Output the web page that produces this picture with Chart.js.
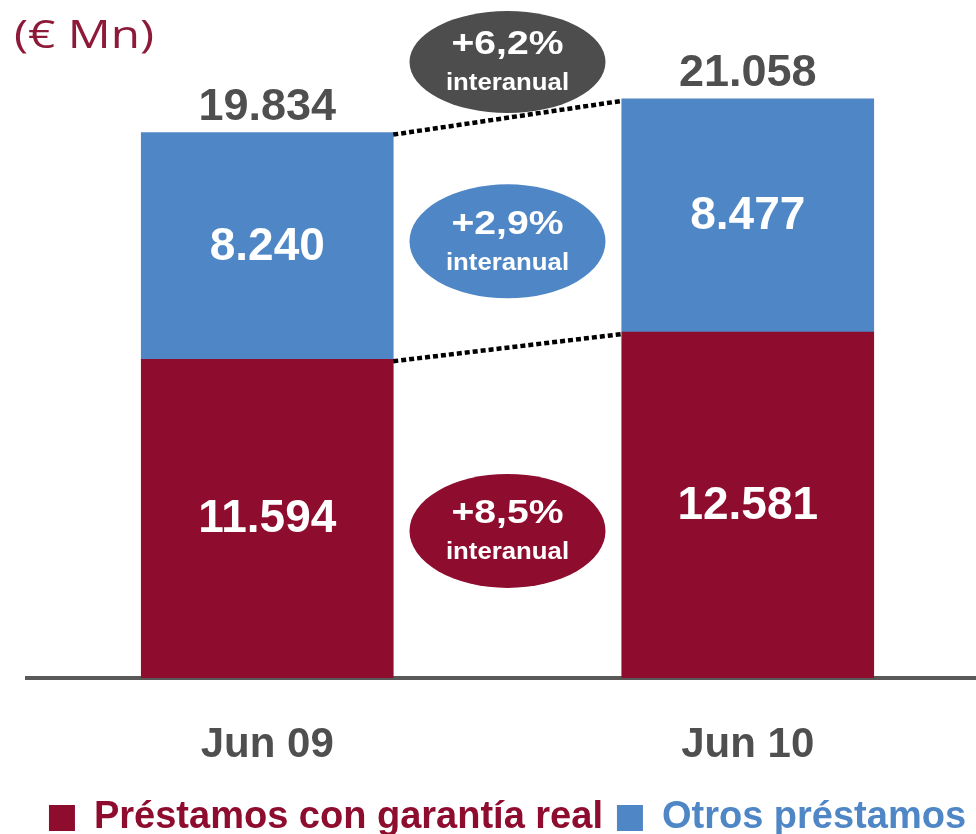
<!DOCTYPE html>
<html>
<head>
<meta charset="utf-8">
<script src="https://cdn.jsdelivr.net/npm/chart.js@4.4.1/dist/chart.umd.min.js"></script>
<style>
  html, body { margin: 0; padding: 0; background: #fff; overflow: hidden; }
  #wrap { position: absolute; left: 0; top: 0; width: 1000px; height: 834px; }
</style>
</head>
<body>
<div id="wrap"><canvas id="chart"></canvas></div>
<script>
// categories and series (millions of euros)
const periods = ["Jun 09", "Jun 10"];
const seriesNames = ["Préstamos con garantía real", "Otros préstamos"];
const securedLoans = [11594, 12581];
const otherLoans = [8240, 8477];
// year-on-year growth shown in the bubbles: secured, other, total
const growthLabels = ["+8,5%", "+2,9%", "+6,2%"];
const growthNote = "interanual";
const unitLabel = "(€ Mn)";

const red = "#8E0C2E";
const blue = "#4F86C6";
const darkGrey = "#4D4D4D";
const textGrey = "#4F4F4F";

const fmt = (n) => String(n).replace(/\B(?=(\d{3})+(?!\d))/g, ".");

//draws the values inside the bars, totals on top, dotted links and bubbles
const decorations = {
  id: "decorations",
  afterDatasetsDraw(chart) {
    const ctx = chart.ctx;
    const yScale = chart.scales.y;
    const metaRed = chart.getDatasetMeta(0);
    const metaBlue = chart.getDatasetMeta(1);

    ctx.save();
    ctx.textAlign = "center";
    ctx.textBaseline = "middle";
    ctx.fillStyle = "#fff";
    ctx.font = "bold 46px 'Liberation Sans', Arial, sans-serif";
    [metaRed, metaBlue].forEach((meta, di) => {
      meta.data.forEach((bar, i) => {
        const v = chart.data.datasets[di].data[i];
        ctx.fillText(fmt(v), bar.x, (bar.y + bar.base) / 2 + 1);
      });
    });

    //totals above bars
    ctx.fillStyle = textGrey;
    ctx.font = "bold 45px 'Liberation Sans', Arial, sans-serif";
    ctx.textBaseline = "alphabetic";
    metaBlue.data.forEach((bar, i) => {
      const total = securedLoans[i] + otherLoans[i];
      ctx.fillText(fmt(total), bar.x, yScale.getPixelForValue(total) - 13);
    });

    //dotted connectors between the bar tops
    ctx.strokeStyle = "#000";
    ctx.lineWidth = 4.5;
    ctx.setLineDash([5, 3]);
    [metaBlue, metaRed].forEach((meta) => {
      const a = meta.data[0], b = meta.data[1];
      ctx.beginPath();
      ctx.moveTo(a.x + a.width / 2, a.y + 2);
      ctx.lineTo(b.x - b.width / 2, b.y + 2);
      ctx.stroke();
    });
    ctx.setLineDash([]);

    //growth bubbles
    const a = metaRed.data[0], b = metaRed.data[1];
    const cx = (a.x + a.width / 2 + b.x - b.width / 2) / 2;
    const bubbles = [
      { at: 5350, ry: 57, color: red },
      { at: 15880, ry: 57, color: blue },
      { at: 22400, ry: 51, color: darkGrey },
    ];
    bubbles.forEach((bb, i) => {
      const cy = yScale.getPixelForValue(bb.at);
      ctx.fillStyle = bb.color;
      ctx.beginPath();
      ctx.ellipse(cx, cy, 98, bb.ry, 0, 0, Math.PI * 2);
      ctx.fill();
      ctx.fillStyle = "#fff";
      ctx.textBaseline = "middle";
      ctx.save();
      ctx.translate(cx, cy - 17);
      ctx.scale(1.15, 1);
      ctx.font = "bold 34px 'Liberation Sans', Arial, sans-serif";
      ctx.fillText(growthLabels[i], 0, 0);
      ctx.restore();
      ctx.save();
      ctx.translate(cx, cy + 22);
      ctx.scale(1.12, 1);
      ctx.font = "bold 23px 'Liberation Sans', Arial, sans-serif";
      ctx.fillText(growthNote, 0, 0);
      ctx.restore();
    });

    //unit label
    ctx.fillStyle = "#8E1A3A";
    ctx.textAlign = "left";
    ctx.textBaseline = "alphabetic";
    ctx.font = "39px 'Open Sans', 'Noto Sans', sans-serif";
    const w = ctx.measureText(unitLabel).width;
    ctx.translate(14, 48);
    ctx.scale(140 / w, 1);
    ctx.fillText(unitLabel, 0, 0);
    ctx.restore();
  },
};

new Chart(document.getElementById("chart"), {
  type: "bar",
  plugins: [decorations],
  data: {
    labels: periods,
    datasets: [
      { label: seriesNames[0], data: securedLoans, backgroundColor: red },
      { label: seriesNames[1], data: otherLoans, backgroundColor: blue },
    ],
  },
  options: {
    responsive: true,
    maintainAspectRatio: false,
    animation: false,
    layout: { padding: { left: 27, right: 12, top: 18, bottom: -13 } },
    datasets: { bar: { barThickness: 252 } },
    scales: {
      x: {
        stacked: true,
        grid: { display: false, drawTicks: false },
        border: { display: true, color: "#595959", width: 4 },
        ticks: {
          color: textGrey,
          padding: 42,
          font: { family: "'Liberation Sans', Arial, sans-serif", size: 42, weight: "bold" },
        },
        afterFit(scale) {
          scale.height -= 27.5;
        },
      },
      y: { stacked: true, display: false, min: 0, max: 24000 },
    },
    plugins: {
      tooltip: { enabled: false },
      legend: {
        position: "bottom",
        labels: {
          boxWidth: 26,
          boxHeight: 26,
          padding: 14,
          font: { family: "'Liberation Sans', Arial, sans-serif", size: 38, weight: "bold" },
          generateLabels(chart) {
            return chart.data.datasets.map((ds, i) => ({
              text: ds.label,
              fillStyle: ds.backgroundColor,
              strokeStyle: ds.backgroundColor,
              lineWidth: 0,
              fontColor: ds.backgroundColor,
              datasetIndex: i,
              hidden: false,
            }));
          },
        },
      },
    },
  },
});
</script>
</body>
</html>
